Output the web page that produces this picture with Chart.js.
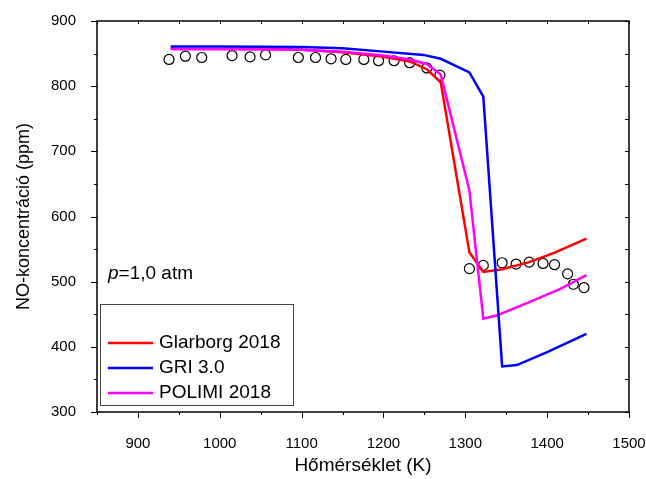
<!DOCTYPE html>
<html>
<head>
<meta charset="utf-8">
<script src="https://cdn.jsdelivr.net/npm/chart.js@4.4.1/dist/chart.umd.min.js"></script>
<style>
  html, body { margin: 0; padding: 0; background: #fff; }
</style>
</head>
<body>
<canvas id="noChart" width="646" height="479"></canvas>
<script>
// measured points (circles)
const expTemp = [938, 958, 978, 1015, 1037, 1056, 1096, 1117, 1136, 1154, 1176, 1194, 1213, 1232, 1253, 1269,
                 1305, 1322, 1345, 1362, 1378, 1395, 1409, 1425, 1432, 1445];
const expNO = [841, 846, 844, 847, 845, 848, 844, 844, 842, 841, 841, 839, 839, 836, 828, 817,
               520, 525, 529, 527, 530, 528, 526, 512, 496, 491];

// model curves
const glarborgTemp = [940, 1000, 1060, 1100, 1150, 1200, 1232, 1253, 1270, 1305, 1322, 1345, 1378, 1410, 1448];
const glarborgNO = [857, 857, 857, 856, 852, 845, 838, 826, 806, 545, 515, 519, 530, 545, 566];

const griTemp = [940, 1000, 1100, 1150, 1200, 1249, 1270, 1305, 1322, 1345, 1363, 1400, 1448];
const griNO = [861, 861, 860, 858, 853, 848, 842, 821, 784, 370, 372, 392, 420];

const polimiTemp = [940, 1000, 1100, 1150, 1200, 1232, 1253, 1270, 1305, 1322, 1338, 1379, 1416, 1448];
const polimiNO = [857, 857, 856, 853, 847, 841, 834, 818, 640, 443, 448, 469, 489, 510];

const legendNames = ['Glarborg 2018', 'GRI 3.0', 'POLIMI 2018'];
const legendColors = ['#ff0000', '#0000ff', '#ff00ff'];

const FONT = "'Liberation Sans', Arial, sans-serif";

function toPoints(xs, ys) {
  return xs.map((x, i) => ({ x: x, y: ys[i] }));
}

function lineSet(label, xs, ys, color) {
  return {
    label: label,
    data: toPoints(xs, ys),
    showLine: true,
    borderColor: color,
    backgroundColor: color,
    borderWidth: 2.5,
    pointRadius: 0,
    tension: 0
  };
}

// frame, mirrored ticks, legend box and pressure note
const framePlugin = {
  id: 'frame',
  afterDraw(chart) {
    const { ctx, chartArea: a, scales } = chart;
    const x = scales.x, y = scales.y;
    ctx.save();
    ctx.strokeStyle = '#000';
    ctx.lineWidth = 1.5;
    ctx.strokeRect(a.left, a.top, a.right - a.left, a.bottom - a.top);
    ctx.lineWidth = 1;
    ctx.beginPath();
    for (let v = 850; v <= 1500; v += 50) {
      const px = Math.round(x.getPixelForValue(v)) + 0.5;
      const len = v % 100 === 0 ? 6 : 3;
      ctx.moveTo(px, a.bottom); ctx.lineTo(px, a.bottom + len);
      ctx.moveTo(px, a.top); ctx.lineTo(px, a.top + 3);
    }
    for (let v = 300; v <= 900; v += 50) {
      const py = Math.round(y.getPixelForValue(v)) + 0.5;
      const len = v % 100 === 0 ? 6 : 3;
      ctx.moveTo(a.left, py); ctx.lineTo(a.left - len, py);
      ctx.moveTo(a.right, py); ctx.lineTo(a.right - 4, py);
    }
    ctx.stroke();

    // legend
    const lx = a.left + 3, ly = a.top + 283;
    ctx.strokeStyle = '#444';
    ctx.lineWidth = 1;
    ctx.strokeRect(lx + 0.5, ly + 0.5, 193, 101);
    ctx.font = '19px ' + FONT;
    ctx.textBaseline = 'middle';
    ctx.fillStyle = '#000';
    legendNames.forEach((name, i) => {
      const yy = ly + 39 + i * 25;
      ctx.strokeStyle = legendColors[i];
      ctx.lineWidth = 2.5;
      ctx.beginPath();
      ctx.moveTo(lx + 8, yy); ctx.lineTo(lx + 53, yy);
      ctx.stroke();
      ctx.fillText(name, lx + 59, yy);
    });

    // pressure note
    ctx.font = 'italic 19px ' + FONT;
    ctx.fillText('p', a.left + 11, a.top + 253);
    const pw = ctx.measureText('p').width;
    ctx.font = '19px ' + FONT;
    ctx.fillText('=1,0 atm', a.left + 11 + pw, a.top + 253);
    ctx.restore();
  }
};

new Chart(document.getElementById('noChart'), {
  type: 'scatter',
  data: {
    datasets: [
      lineSet(legendNames[1], griTemp, griNO, legendColors[1]),
      lineSet(legendNames[2], polimiTemp, polimiNO, legendColors[2]),
      lineSet(legendNames[0], glarborgTemp, glarborgNO, legendColors[0]),
      {
        label: 'Mért',
        data: toPoints(expTemp, expNO),
        showLine: false,
        pointRadius: 5,
        pointBorderWidth: 1.2,
        pointBorderColor: '#000',
        pointBackgroundColor: 'rgba(255,255,255,0)'
      }
    ]
  },
  plugins: [framePlugin],
  options: {
    responsive: false,
    animation: false,
    layout: { padding: { top: 21, right: 17, left: 0, bottom: 0 } },
    plugins: {
      legend: { display: false },
      tooltip: { enabled: false }
    },
    scales: {
      x: {
        type: 'linear',
        min: 850,
        max: 1500,
        grid: { display: false },
        border: { display: false },
        ticks: {
          stepSize: 50,
          autoSkip: false,
          maxRotation: 0,
          padding: 15,
          color: '#000',
          font: { family: FONT, size: 15 },
          callback: v => (v % 100 === 0 ? v : '')
        },
        title: {
          display: true,
          text: 'Hőmérséklet (K)',
          color: '#000',
          font: { family: FONT, size: 19 },
          padding: { top: 0, bottom: 2 }
        },
        afterFit: s => { s.height = 67; s.paddingLeft = 0; s.paddingRight = 0; }
      },
      y: {
        min: 300,
        max: 900,
        grid: { display: false },
        border: { display: false },
        ticks: {
          stepSize: 50,
          autoSkip: false,
          padding: 13,
          color: '#000',
          font: { family: FONT, size: 15 },
          callback: v => (v % 100 === 0 ? v : '')
        },
        title: {
          display: true,
          text: 'NO-koncentráció (ppm)',
          color: '#000',
          font: { family: FONT, size: 18 },
          padding: { top: 13, bottom: 0 }
        },
        afterFit: s => { s.width = 97; s.paddingTop = 0; s.paddingBottom = 0; }
      }
    }
  }
});
</script>
</body>
</html>
